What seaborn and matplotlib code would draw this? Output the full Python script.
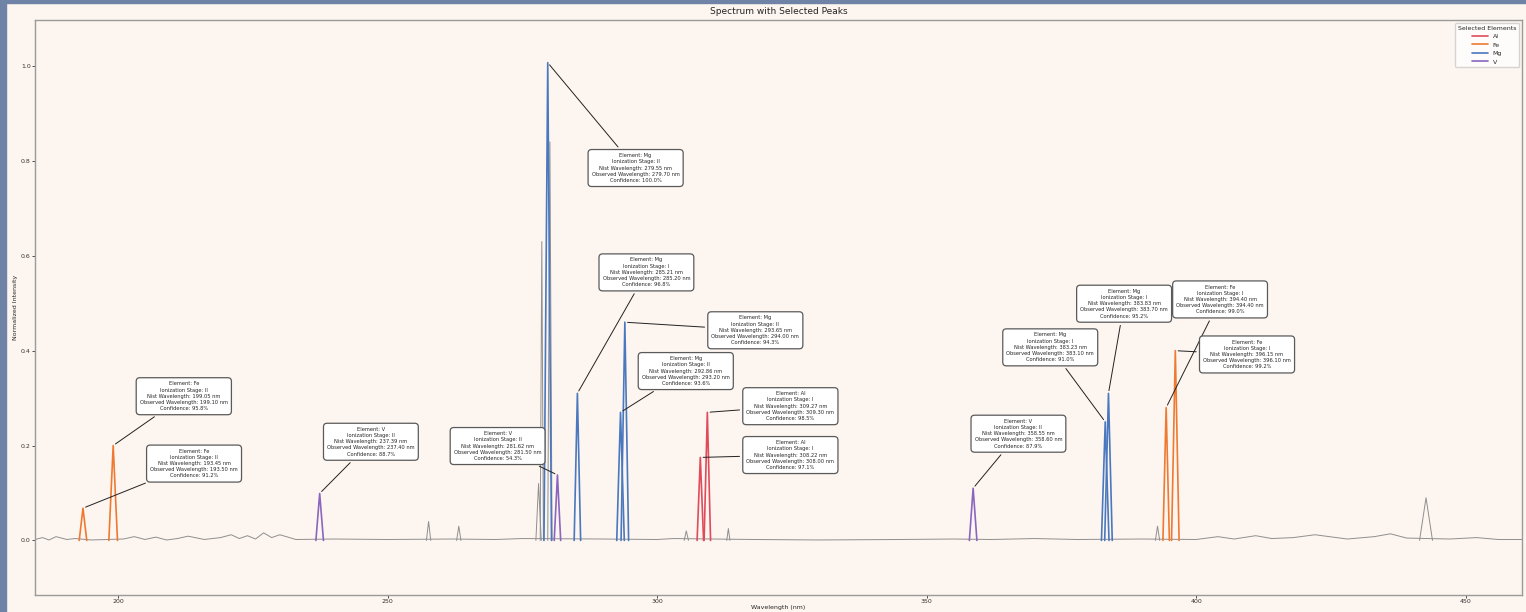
import numpy as np
import pandas as pd
import matplotlib
matplotlib.use("Agg")
import matplotlib.pyplot as plt
import seaborn as sns
from matplotlib.patches import Rectangle

# -------------------------
# Data
# -------------------------

# background spectrum (grey), baseline wiggles
base_wl = [184.6, 186.0, 187.2, 188.5, 190.5, 192.0, 195.0, 201.0, 203.0, 205.0,
           207.0, 209.0, 211.0, 213.0, 216.0, 219.0, 221.0, 222.5, 224.0, 225.5,
           227.0, 228.5, 230.0, 233.0, 240.0, 250.0, 262.0, 270.0, 275.0, 290.0,
           300.0, 303.0, 318.0, 330.0, 345.0, 355.0, 362.0, 370.0, 378.0, 390.0,
           400.0, 404.0, 407.0, 411.0, 414.0, 418.0, 422.0, 428.0, 433.0, 436.0,
           439.0, 447.0, 452.0, 456.0, 460.4]
base_int = [0.002, 0.006, 0.001, 0.008, 0.002, 0.004, 0.001, 0.003, 0.008, 0.002,
            0.007, 0.001, 0.004, 0.009, 0.002, 0.006, 0.012, 0.004, 0.010, 0.003,
            0.016, 0.006, 0.012, 0.002, 0.003, 0.002, 0.003, 0.002, 0.004, 0.003,
            0.002, 0.004, 0.002, 0.001, 0.002, 0.003, 0.002, 0.004, 0.002, 0.003,
            0.002, 0.008, 0.003, 0.010, 0.004, 0.006, 0.012, 0.003, 0.008, 0.014,
            0.005, 0.003, 0.006, 0.002, 0.002]

# unassigned peaks (grey)
grey_wl = [257.6, 263.2, 278.0, 278.6, 280.1, 305.4, 313.2, 392.8, 442.6]
grey_h = [0.040, 0.030, 0.120, 0.630, 0.840, 0.020, 0.025, 0.030, 0.090]
grey_hw = [0.4, 0.4, 0.5, 0.3, 0.4, 0.4, 0.3, 0.4, 1.2]

# selected peaks
sel_element = ["Fe", "Fe", "V", "V", "Mg", "Mg", "Mg", "Mg", "Al", "Al",
               "V", "Mg", "Mg", "Fe", "Fe"]
sel_stage = ["II", "II", "II", "II", "II", "I", "II", "II", "I", "I",
             "II", "I", "I", "I", "I"]
sel_nist = [193.45, 199.05, 237.39, 281.62, 279.55, 285.21, 293.65, 292.86, 309.27, 308.22,
            358.55, 383.23, 383.83, 394.40, 396.15]
sel_wl = [193.5, 199.1, 237.4, 281.5, 279.7, 285.2, 294.0, 293.2, 309.3, 308.0,
          358.6, 383.1, 383.7, 394.4, 396.1]
sel_h = [0.068, 0.200, 0.099, 0.138, 1.007, 0.310, 0.460, 0.270, 0.270, 0.175,
         0.110, 0.250, 0.310, 0.280, 0.400]
sel_hw = [0.7, 0.8, 0.7, 0.6, 0.7, 0.6, 0.7, 0.7, 0.6, 0.6,
          0.7, 0.7, 0.7, 0.6, 0.7]
sel_conf = [91.2, 95.8, 88.7, 54.3, 100.0, 96.8, 94.3, 93.6, 98.5, 97.1,
            87.9, 91.0, 95.2, 99.0, 99.2]
# where the label boxes sit (data units)
box_x = [214.1, 212.2, 246.9, 270.4, 296.0, 298.0, 318.2, 305.3, 324.7, 324.7,
         367.0, 372.9, 386.6, 404.4, 409.4]
box_y = [0.162, 0.304, 0.208, 0.199, 0.785, 0.565, 0.443, 0.357, 0.283, 0.180,
         0.225, 0.407, 0.499, 0.508, 0.392]

elements = ["Al", "Fe", "Mg", "V"]
palette = {"Al": "#e04b5c", "Fe": "#ee7a32", "Mg": "#4a78bf", "V": "#8a66c0"}


def peak_frame(wl, h, hw, labels):
    rows = []
    for i, (c, p, w, lab) in enumerate(zip(wl, h, hw, labels)):
        for x, y in [(c - w, 0.0), (c, p), (c + w, 0.0)]:
            rows.append({"wavelength": x, "intensity": y, "peak": i, "element": lab})
    return pd.DataFrame(rows)


def main():
    sns.set_theme(style="ticks")
    plt.rcParams["font.family"] = ["DejaVu Sans"]

    bg = "#fdf5ef"
    fig = plt.figure(figsize=(15.26, 6.12), dpi=100, facecolor=bg)
    fig.patches.append(Rectangle((0, 0), 6 / 1526, 1, transform=fig.transFigure,
                                 color="#6f83a7", zorder=0))
    fig.patches.append(Rectangle((0, 1 - 3 / 612), 1, 3 / 612, transform=fig.transFigure,
                                 color="#6f83a7", zorder=0))

    ax = fig.add_axes([35 / 1526, 17 / 612, 1487 / 1526, 575 / 612])
    ax.set_facecolor(bg)

    # grey spectrum
    sns.lineplot(x=base_wl, y=base_int, color="#8f8f8f", lw=0.7, ax=ax)
    grey_df = peak_frame(grey_wl, grey_h, grey_hw, ["grey"] * len(grey_wl))
    sns.lineplot(data=grey_df, x="wavelength", y="intensity", units="peak",
                 estimator=None, color="#8f8f8f", lw=0.7, ax=ax)

    # selected peaks
    sel_df = peak_frame(sel_wl, sel_h, sel_hw, sel_element)
    sns.lineplot(data=sel_df, x="wavelength", y="intensity", hue="element",
                 hue_order=elements, palette=palette, units="peak",
                 estimator=None, lw=1.2, ax=ax)

    for i in range(len(sel_wl)):
        txt = (f"Element: {sel_element[i]}\n"
               f"Ionization Stage: {sel_stage[i]}\n"
               f"Nist Wavelength: {sel_nist[i]:.2f} nm\n"
               f"Observed Wavelength: {sel_wl[i]:.2f} nm\n"
               f"Confidence: {sel_conf[i]:.1f}%")
        ax.annotate(txt, xy=(sel_wl[i], sel_h[i]), xytext=(box_x[i], box_y[i]),
                    ha="center", va="center", fontsize=3.7, linespacing=1.3,
                    bbox=dict(boxstyle="round,pad=0.7", fc="white", ec="#5a5a5a", lw=0.9),
                    arrowprops=dict(arrowstyle="-", color="#222222", lw=0.7))

    ax.set_xlim(184.6, 460.4)
    ax.set_ylim(-0.115, 1.097)
    ax.set_xticks([200, 250, 300, 350, 400, 450])
    ax.set_yticks([0.0, 0.2, 0.4, 0.6, 0.8, 1.0])
    ax.tick_params(labelsize=4.5, length=2, width=0.6, colors="#333333", pad=1)

    ax.set_title("Spectrum with Selected Peaks", fontsize=6.5, pad=4)
    ax.set_xlabel("Wavelength (nm)", fontsize=4.5, labelpad=0.5)
    ax.set_ylabel("Normalized Intensity", fontsize=4.5, labelpad=2)

    for s in ax.spines.values():
        s.set_color("#9a9a9a")
        s.set_linewidth(1.0)

    leg = ax.legend(title="Selected Elements", loc="upper right", fontsize=4.5,
                    title_fontsize=4.5, frameon=True, handlelength=2.5)
    leg.get_frame().set_facecolor("white")
    leg.get_frame().set_edgecolor("#cccccc")

    fig.savefig("out.png", dpi=100, facecolor=fig.get_facecolor())
    plt.close(fig)


if __name__ == "__main__":
    main()
